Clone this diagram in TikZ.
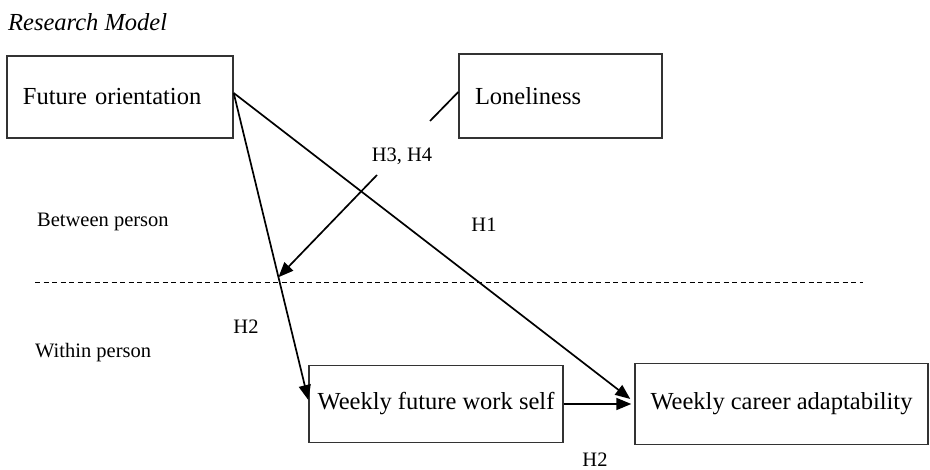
\documentclass[tikz,border=0pt]{standalone}
\usepackage{fontspec}
\setmainfont{Liberation Serif}
\usetikzlibrary{arrows.meta, positioning, calc}

\begin{document}
\begin{tikzpicture}[x=1pt, y=-1pt,
    box/.style={rectangle, draw=black!80, line width=1.4pt, minimum height=80pt, inner xsep=4pt, font=\fontsize{24.5}{28}\selectfont},
    lbl/.style={inner sep=0pt, font=\fontsize{20.5}{24}\selectfont},
    arrow/.style={-{Triangle[length=15pt, width=12pt]}, line width=1.7pt},
    level/.style={dash pattern=on 5pt off 3.5pt, line width=1pt}
]
\useasboundingbox (0,0) rectangle (930,470);

\node[lbl, anchor=west, font=\fontsize{24.5}{28}\selectfont\itshape] (title) at (8,22) {Research Model};

% constructs
\node[box, minimum height=82pt, text width=194pt, inner xsep=16pt, align=left] (fo) at (120,97) {Future orientation};
\node[box, minimum height=84pt, text width=171pt, inner xsep=16pt, align=left] (lone) at (560.5,96) {Loneliness};
\node[box, minimum width=254pt, minimum height=77pt] (wfws) at (436,404) {Weekly future work self};
\node[box, minimum width=293pt, minimum height=81pt] (wca) at (781.5,404) {Weekly career adaptability};

% levels
\coordinate (dl) at (35,283);
\coordinate (dr) at (863,283);
\draw[level] (dl) -- (dr);
\node[lbl, anchor=west] (between) at (37,222) {Between person};
\node[lbl, anchor=west] (within) at (35,353) {Within person};

% paths
\draw[arrow] ([yshift=4pt]fo.east) -- ([yshift=4pt]wfws.west)
    coordinate[pos=0.6] (mod);
\draw[arrow] ([yshift=4pt]fo.east) -- ([xshift=-4pt, yshift=5pt]wca.west);
\draw[arrow] (wfws.east) -- ([xshift=-3pt]wca.west);

% moderation
\coordinate (g1) at (430,121);
\coordinate (g2) at (377,175);
\draw[line width=1.7pt] ([yshift=4pt]lone.west) -- (g1);
\draw[arrow] (g2) -- (mod);

% hypotheses
\node[lbl] (h34) at (402,156) {H3, H4};
\node[lbl] (h1) at (484,225) {H1};
\node[lbl] (h2a) at (246,327) {H2};
\node[lbl] (h2b) at (595,460) {H2};

\end{tikzpicture}
\end{document}
